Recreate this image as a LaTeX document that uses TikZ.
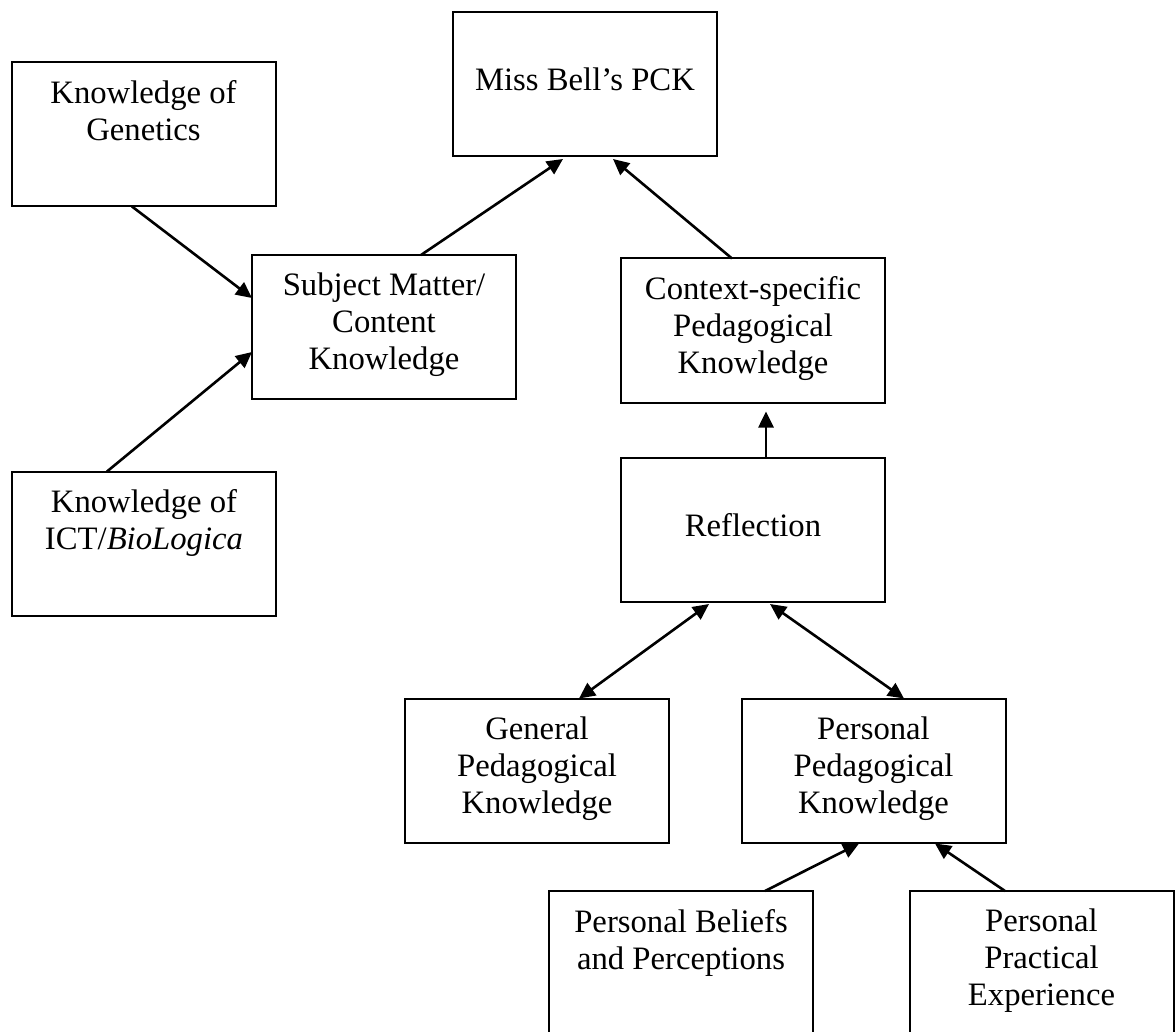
\documentclass[tikz,border=0pt]{standalone}
\usepackage{fontspec}
\setmainfont{Liberation Serif}
\usetikzlibrary{arrows.meta}
\begin{document}
\begin{tikzpicture}[x=1pt,y=-1pt,
  box/.style={draw, line width=2pt, minimum width=264pt, minimum height=144pt, inner sep=0pt, outer sep=0pt},
  txt/.style={align=center, inner sep=0pt, anchor=north, font=\fontsize{32.7pt}{37pt}\selectfont},
  arr/.style={line width=2.6pt, -{Triangle[length=16pt,width=15pt]}},
  darr/.style={line width=2.6pt, {Triangle[length=16pt,width=15pt]}-{Triangle[length=16pt,width=15pt]}}]
\useasboundingbox[fill=white] (0,0) rectangle (1175,1032);
% boxes
\node[box] (pck) at (585,84) {};
\node[box] (gen) at (143.5,134.5) {};
\node[box] (subj) at (384,327) {};
\node[box] (ctx) at (753,330.5) {};
\node[box] (ict) at (144,543.5) {};
\node[box] (refl) at (753,530) {};
\node[box] (gped) at (537,770.5) {};
\node[box] (pped) at (873.5,770.5) {};
\node[box] (bel) at (681,963) {};
\node[box] (prac) at (1041.5,963) {};
% texts
\node[txt] (pckt) at ([yshift=-56pt]pck.north) {Miss Bell’s PCK};
\node[txt] (gent) at ([yshift=-18pt]gen.north) {Knowledge of\\Genetics};
\node[txt] (subjt) at ([yshift=-18pt]subj.north) {Subject Matter/\\Content\\Knowledge};
\node[txt] (ctxt) at ([yshift=-18pt]ctx.north) {Context-specific\\Pedagogical\\Knowledge};
\node[txt] (ictt) at ([yshift=-18pt]ict.north) {Knowledge of\\ICT/\textit{BioLogica}};
\node[txt] (reflt) at ([yshift=-55pt]refl.north) {Reflection};
\node[txt] (gpedt) at ([yshift=-18pt]gped.north) {General\\Pedagogical\\Knowledge};
\node[txt] (ppedt) at ([yshift=-18pt]pped.north) {Personal\\Pedagogical\\Knowledge};
\node[txt] (belt) at ([yshift=-18pt]bel.north) {Personal Beliefs\\and Perceptions};
\node[txt] (pract) at ([yshift=-18pt]prac.north) {Personal\\Practical\\Experience};
% connectors
\draw[arr] ([xshift=-11.5pt]gen.south) -- ([yshift=29pt]subj.west);
\draw[arr] ([xshift=-37pt]ict.north) -- ([yshift=-25pt]subj.west);
\draw[arr] ([xshift=37pt]subj.north) -- ([xshift=-22pt,yshift=-3pt]pck.south);
\draw[arr] ([xshift=-21pt]ctx.north) -- ([xshift=28pt,yshift=-3pt]pck.south);
\draw[arr] ([xshift=13pt]refl.north) -- ([xshift=13pt,yshift=-9pt]ctx.south);
\draw[darr] ([xshift=-44pt,yshift=-2pt]refl.south) -- ([xshift=42pt]gped.north);
\draw[darr] ([xshift=17pt,yshift=-2pt]refl.south) -- ([xshift=30.5pt]pped.north);
\draw[arr] ([xshift=84pt]bel.north) -- ([xshift=-14.5pt,yshift=-1pt]pped.south);
\draw[arr] ([xshift=-36.5pt]prac.north) -- ([xshift=61.5pt,yshift=-1pt]pped.south);
\end{tikzpicture}
\end{document}
